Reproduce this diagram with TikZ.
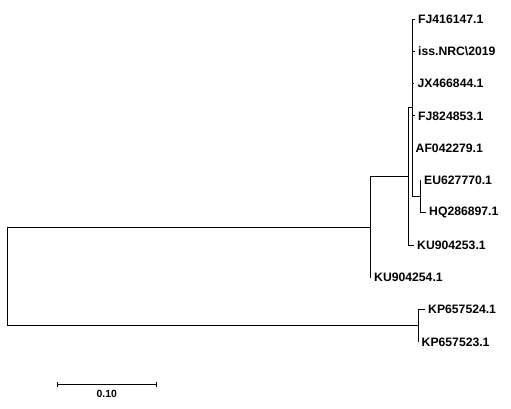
\documentclass[tikz,border=0pt]{standalone}
\usepackage{fontspec}
\setmainfont{Liberation Sans}
\usetikzlibrary{arrows.meta}

\begin{document}
\begin{tikzpicture}[x=1pt,y=-1pt,
 every node/.style={font=\bfseries\fontsize{12.2}{14}\selectfont},
 leaf/.style={anchor=west,inner xsep=3.5pt,inner ysep=0pt},
 branch/.style={line width=0.9pt},
 scalebar/.style={branch,{Bar[width=5pt,line width=0.9pt]}-{Bar[width=5pt,line width=0.9pt]}},
 scalelbl/.style={font=\bfseries\fontsize{10.4}{12}\selectfont,inner sep=0pt}]
\useasboundingbox (0,0) rectangle (511,409);
\coordinate (root) at (7,276.5);
\coordinate (n1) at (370,227);
\coordinate (n2) at (408,176.5);
\coordinate (n3) at (412,107.8);
\coordinate (n5) at (420,196.6);
\coordinate (n4) at (418,325.9);
\node[leaf] (fj416) at (414.5,19) {FJ416147.1};
\node[leaf] (iss) at (414.5,51.3) {iss.NRC\textbackslash 2019};
\node[leaf] (jx466) at (414,83.6) {JX466844.1};
\node[leaf] (fj824) at (414.5,115.9) {FJ824853.1};
\node[leaf] (af042) at (412,148.2) {AF042279.1};
\node[leaf] (eu627) at (420.5,180.5) {EU627770.1};
\node[leaf] (hq286) at (425.5,212.8) {HQ286897.1};
\node[leaf] (ku253) at (413.5,245.1) {KU904253.1};
\node[leaf] (ku254) at (370.5,277.4) {KU904254.1};
\node[leaf] (kp524) at (424.5,309.7) {KP657524.1};
\node[leaf] (kp523) at (418,342) {KP657523.1};
\draw[branch] (root) |- (n1);
\draw[branch] (root) |- (n4);
\draw[branch] (n1) |- (n2);
\draw[branch] (n1) |- (ku254.west);
\draw[branch] (n2) |- (n3);
\draw[branch] (n2) |- (ku253.west);
\draw[branch] (n3) |- (fj416.west);
\draw[branch] (n3) |- (iss.west);
\draw[branch] (n3) |- (jx466.west);
\draw[branch] (n3) |- (fj824.west);
\draw[branch] (n3) |- (af042.west);
\draw[branch] (n3) |- (n5);
\draw[branch] (n5) |- (eu627.west);
\draw[branch] (n5) |- (hq286.west);
\draw[branch] (n4) |- (kp524.west);
\draw[branch] (n4) |- (kp523.west);
\coordinate (sbl) at (56.7,384);
\coordinate (sbr) at (156.7,384);
\draw[scalebar] (sbl) -- (sbr);
\node[scalelbl] (sblab) at (106.7,394) {0.10};
\end{tikzpicture}
\end{document}
